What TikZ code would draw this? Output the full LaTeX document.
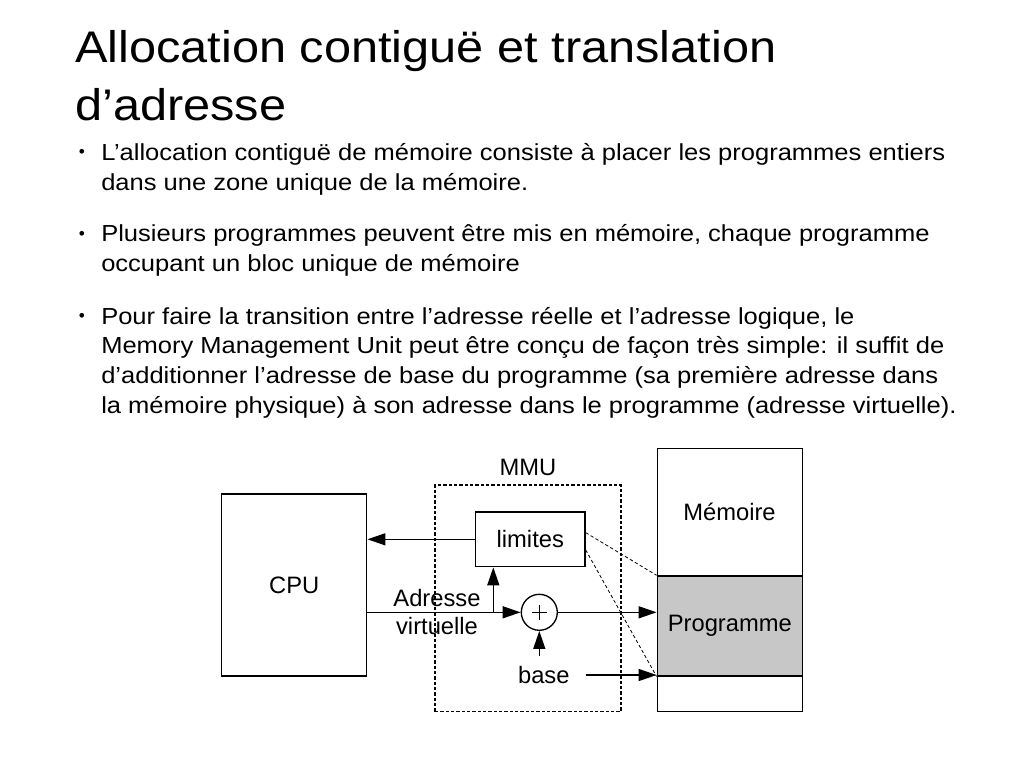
\documentclass[tikz,border=0pt]{standalone}
\usepackage{fontspec}
\setmainfont{Liberation Sans}
\newfontfamily\slidefont[FakeStretch=1.1]{Liberation Sans}
\usepackage{tikz}
\usetikzlibrary{positioning}
\usetikzlibrary{arrows.meta}
\tikzset{boxnode/.style={rectangle, draw=black, line width=1.1pt, inner sep=0pt, font=\fontsize{17.8}{21}\selectfont}}
\tikzset{labeltext/.style={inner sep=0pt, font=\fontsize{17.8}{21}\selectfont}}
\tikzset{bodytext/.style={anchor=base west, align=left, inner sep=0pt, font=\slidefont\fontsize{17.4}{22.3}\selectfont}}
\tikzset{dot/.style={inner sep=0pt, font=\fontsize{13}{13}\selectfont}}
\tikzset{flow/.style={line width=1.1pt, -{Triangle[length=13.5pt,width=9pt]}}}
\tikzset{guide/.style={line width=0.6pt, dash pattern=on 2.5pt off 1.8pt}}
\tikzset{sumnode/.style={circle, draw=black, line width=1pt, minimum size=27pt, inner sep=0pt,
    path picture={\draw[line width=0.8pt] ([xshift=-5.6pt]path picture bounding box.center) -- ([xshift=5.6pt]path picture bounding box.center)
                                          ([yshift=-5.6pt]path picture bounding box.center) -- ([yshift=5.6pt]path picture bounding box.center);}}}

\begin{document}
\begin{tikzpicture}[x=0.75pt, y=-0.75pt]
    \useasboundingbox (0,0) rectangle (1024,768);

    \node[anchor=base west, align=left, inner sep=0pt, font=\slidefont\fontsize{33.2}{43}\selectfont] (title) at (75,120) {Allocation contiguë et translation\\d’adresse};

    \node[dot]      (dot1)  at (82,153)   {•};
    \node[bodytext] (item1) at (101,190.7) {L’allocation contiguë de mémoire consiste à placer les programmes entiers\\dans une zone unique de la mémoire.};
    \node[dot]      (dot2)  at (82,235)   {•};
    \node[bodytext] (item2) at (101,271.7) {Plusieurs programmes peuvent être mis en mémoire, chaque programme\\occupant un bloc unique de mémoire};
    \node[dot]      (dot3)  at (82,317)   {•};
    \node[bodytext] (item3) at (101,413.3) {Pour faire la transition entre l’adresse réelle et l’adresse logique, le\\Memory Management Unit peut être conçu de façon très simple: il suffit de\\d’additionner l’adresse de base du programme (sa première adresse dans\\la mémoire physique) à son adresse dans le programme (adresse virtuelle).};

    \node[boxnode, draw=black, dash pattern=on 2.5pt off 1.5pt, minimum width=139.3pt, minimum height=170pt] (mmu) at (528,598.4) {};
    \node[labeltext] (mmuname) [above=6pt of mmu] {MMU};

    \node[boxnode, minimum width=108.75pt, minimum height=136.5pt] (cpu)     at (294.2,585)   {CPU};
    \node[boxnode, minimum width=82pt, minimum height=41pt]        (limites) at (530.3,539.3) {limites};
    \node[sumnode]                                                 (plus)    at (539.3,612.3) {};
    \node[labeltext, inner xsep=11.8pt, inner ysep=7.5pt]         (base)    at (543.8,675)   {base};
    \node[labeltext, align=center]                                 (vaddr)   at (437,612)     {Adresse\\virtuelle};

    \node[boxnode, minimum width=108.75pt, minimum height=197.5pt]               (mem)     at (729.8,580)   {};
    \node[labeltext]                                                             (memname) at (729.5,512)   {Mémoire};
    \node[boxnode, fill=black!22, minimum width=108.75pt, minimum height=74.8pt] (prog)    at (729.8,625.9) {Programme};

    \coordinate (fork) at (493.3,612.3);

    \draw[flow] (limites.west) -- (limites.west -| cpu.east);
    \draw[flow] (cpu.east |- plus) -- (plus.west);
    \draw[flow] (fork) -- (fork |- limites.south);
    \draw[flow] (base.north -| plus) -- (plus.south);
    \draw[flow] (plus.east) -- (plus.east -| mem.west);
    \draw[flow] (base.east) -- (base.east -| mem.west);
    \draw[guide] ([yshift=5pt]limites.east) -- (prog.north west);
    \draw[guide] ([yshift=-8pt]limites.east) -- (prog.south west);
\end{tikzpicture}
\end{document}
